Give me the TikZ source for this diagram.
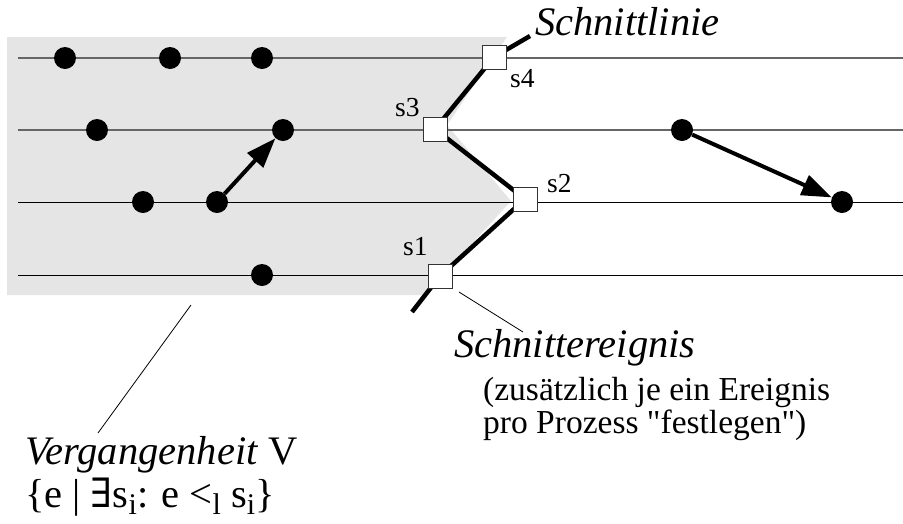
\documentclass[tikz,border=0pt]{standalone}
\usepackage{fontspec}
\setmainfont{Liberation Serif}
\newfontfamily\symfont{DejaVu Serif}
\usetikzlibrary{arrows.meta}
\newcommand\lowsub[1]{\raisebox{-7.5pt}{\fontsize{30}{30}\selectfont #1}}
\tikzset{
  procline/.style={line width=1pt},
  proclinelight/.style={line width=1.6pt, draw=black!60},
  event/.style={circle, fill=black, inner sep=0pt, minimum size=22pt},
  cutbox/.style={draw=black!80, fill=white, line width=1pt, minimum size=24pt, inner sep=0pt},
  cutline/.style={line width=4.5pt},
  msg/.style={line width=4pt, -{Triangle[length=30pt,width=21pt]}},
  slabel/.style={font=\fontsize{27.5}{27.5}\selectfont, inner sep=0pt, anchor=base west},
  bigtext/.style={font=\fontsize{40.5}{43}\selectfont, inner sep=0pt, anchor=base west, align=left},
  smalltext/.style={font=\fontsize{33.5}{33}\selectfont, inner sep=0pt, anchor=base west, align=left},
  leader/.style={line width=0.8pt},
}
\begin{document}
\begin{tikzpicture}[x=1pt,y=-1pt]
\useasboundingbox (0,0) rectangle (903,523);

% shaded past region, bounded by the cut
\fill[black!10] (7,37) -- (507,37) -- (447,125) -- (511,201) -- (425,295) -- (7,295) -- cycle;

% process lines
\coordinate (l1a) at (18,58);  \coordinate (l1b) at (903,58);
\coordinate (l2a) at (18,130); \coordinate (l2b) at (903,130);
\coordinate (l3a) at (18,202); \coordinate (l3b) at (903,202);
\coordinate (l4a) at (18,275); \coordinate (l4b) at (903,275);
\draw[proclinelight] (l1a) -- (l1b);
\draw[proclinelight] (l2a) -- (l2b);
\draw[procline] (l3a) -- (l3b);
\draw[procline] (l4a) -- (l4b);

% events
\node[event] (e11) at (65,58) {};
\node[event] (e12) at (170,58) {};
\node[event] (e13) at (262,58) {};
\node[event] (e21) at (97,130) {};
\node[event] (e22) at (283,130) {};
\node[event] (e23) at (682,130) {};
\node[event] (e31) at (143,202) {};
\node[event] (e32) at (217,202) {};
\node[event] (e33) at (842,202) {};
\node[event] (e41) at (262,275) {};

% messages
\draw[msg] (e32) -- (e22);
\draw[msg] (e23) -- (e33);

% cut line through the cut events
\coordinate (p1) at (440,276);
\coordinate (p2) at (525,199);
\coordinate (p3) at (435,129);
\coordinate (p4) at (494,57);
\coordinate (cutlow) at (412,312);
\coordinate (cuthigh) at (530,36);
\draw[cutline] (cutlow) -- (p1) -- (p2) -- (p3) -- (p4) -- (cuthigh);
\node[cutbox] (s1) at (p1) {};
\node[cutbox] (s2) at (p2) {};
\node[cutbox] (s3) at (p3) {};
\node[cutbox] (s4) at (p4) {};

% cut event labels
\node[slabel] (ls4) at (510,87) {s4};
\node[slabel] (ls3) at (395,116) {s3};
\node[slabel] (ls2) at (547,192) {s2};
\node[slabel] (ls1) at (403,255) {s1};

% annotations
\node[bigtext] (tcut) at (535,35) {\itshape Schnittlinie};
\node[bigtext] (tevent) at (454,357) {\itshape Schnittereignis};
\node[smalltext] (tnote) at (483,433) {(zusätzlich je ein Ereignis\\pro Prozess \textquotedbl festlegen\textquotedbl)};
\node[bigtext] (tpast) at (25,507) {\textit{Vergangenheit} V\\
  \{e | {\symfont ∃}s\lowsub{i}: e <\lowsub{l} s\lowsub{i}\}};

% leader lines
\coordinate (lp1) at (191,305);
\coordinate (lp2) at (98,433);
\draw[leader] (lp1) -- (lp2);
\coordinate (le1) at (459,292);
\coordinate (le2) at (523,332);
\draw[leader] (le1) -- (le2);
\end{tikzpicture}
\end{document}
